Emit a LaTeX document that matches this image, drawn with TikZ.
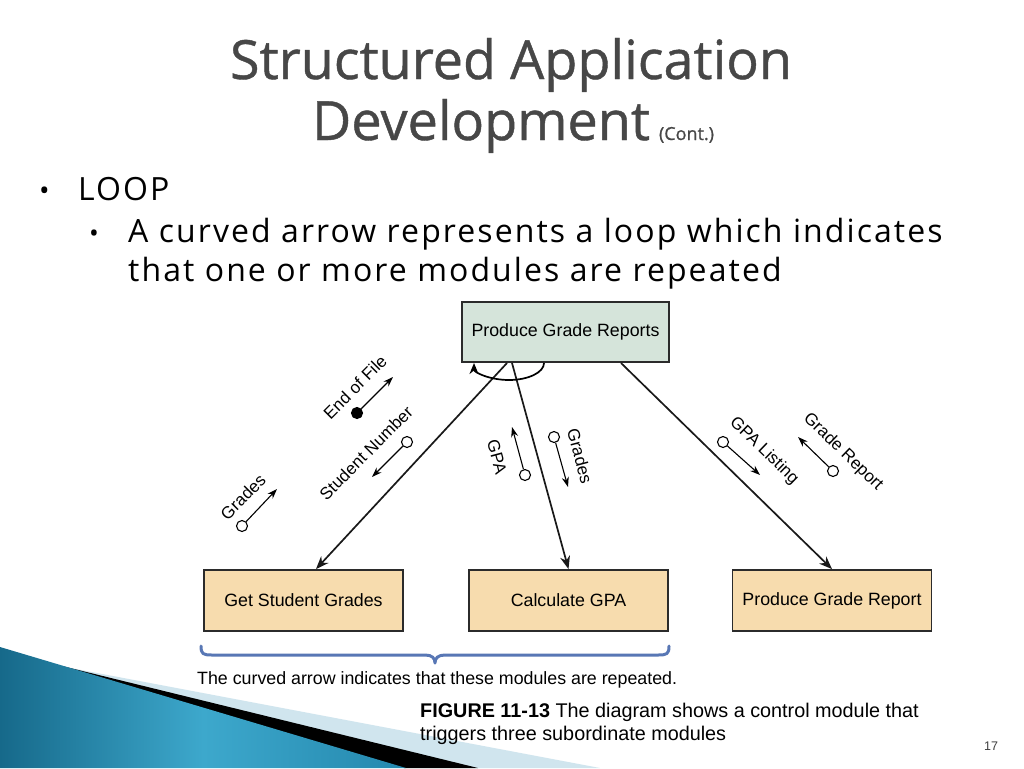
\documentclass[tikz,border=0pt]{standalone}
\usepackage{fontspec}
\setmainfont{Liberation Sans}
\newfontfamily\slidefont[LetterSpace=6.5]{Open Sans}
\newfontfamily\titlefont[FakeBold=0.8]{Open Sans}
\usetikzlibrary{arrows.meta,calc}
\definecolor{topgreen}{HTML}{D5E4DA}
\definecolor{boxtan}{HTML}{F7DCAE}
\definecolor{boxline}{HTML}{2B2B2B}
\definecolor{braceblue}{HTML}{5877B5}
\definecolor{titlegray}{HTML}{474747}
\definecolor{paleblue}{HTML}{D0E5EE}
\definecolor{tealdark}{HTML}{16698A}
\definecolor{teallight}{HTML}{3DA8CC}
\definecolor{tealmid}{HTML}{2488AE}
\begin{document}
\begin{tikzpicture}[x=1pt,y=-1pt,
  modbox/.style={draw=boxline, line width=1.8pt, minimum width=199pt, minimum height=61pt, inner sep=0pt, font=\fontsize{17.8}{20}\selectfont},
  conn/.style={line width=1.7pt, draw=black!90, -{Stealth[length=13pt,width=10pt]}},
  couple/.style={line width=1.1pt, -{Stealth[length=10pt,width=7pt]}},
  tailopen/.style={circle, draw, line width=1.1pt, fill=white, minimum size=11pt, inner sep=0pt},
  tailfull/.style={circle, draw, line width=1.1pt, fill=black, minimum size=11pt, inner sep=0pt},
  lbl/.style={font=\fontsize{17}{18}\selectfont, inner sep=0pt},
  slidetxt/.style={font=\slidefont\fontsize{32}{36}\selectfont, inner sep=0pt, anchor=base west}
]
\useasboundingbox (0,0) rectangle (1024,768);
\fill[white] (0,0) rectangle (1024,768);

% decorative corner
\fill[paleblue] (60,666) -- (600,768) -- (470,768) -- cycle;
\fill[black] (62,666) -- (478,768) -- (404,768) -- cycle;
\shade[left color=tealdark, right color=tealmid, middle color=teallight] (0,647) -- (406,768) -- (0,768) -- cycle;

% title
\node[font=\titlefont\fontsize{54}{60}\selectfont, text=titlegray, anchor=base, inner sep=0pt] (title1) at (511,79) {Structured Application};
\node[font=\titlefont\fontsize{54}{60}\selectfont, text=titlegray, anchor=base, inner sep=0pt] (title2) at (513,140) {Development\,{\fontsize{18}{20}\selectfont (Cont.)}};

% bullets
\node[slidetxt, font=\slidefont\fontsize{28}{30}\selectfont] (bul1) at (39,200) {•};
\node[slidetxt] (loop) at (78,200) {LOOP};
\node[slidetxt, font=\slidefont\fontsize{26}{30}\selectfont] (bul2) at (89,242) {•};
\node[slidetxt] (line1) at (128,242) {A curved arrow represents a loop which indicates};
\node[slidetxt] (line2) at (128,281) {that one or more modules are repeated};

% modules
\node[modbox, fill=topgreen, minimum width=207pt, minimum height=60pt] (top) at (565.5,332) {Produce Grade Reports};
\node[modbox, fill=boxtan] (gsg) at (303.5,600.5) {Get Student Grades};
\node[modbox, fill=boxtan] (cgpa) at (568.5,600.5) {Calculate GPA};
\node[modbox, fill=boxtan] (pgr) at (832,600.5) {Produce Grade Report};

% connectors
\coordinate (s1) at (507,363);
\coordinate (s2) at (512,363);
\coordinate (s3) at (621,363);
\draw[conn] (s1) -- ([xshift=12.5pt]gsg.north);
\draw[conn] (s2) -- (cgpa.north);
\draw[conn] (s3) -- (pgr.north);

% loop arc
\draw[line width=1.7pt, {Stealth[length=11pt,width=9pt]}-] (474,363) arc[start angle=180, end angle=360, x radius=35pt, y radius=17pt];

% data couples
\node[tailfull] (c1) at (357,413) {};
\coordinate (e1) at (393,377);
\draw[couple] (c1) -- (e1);
\node[lbl, rotate=45] (l1) at (355,387) {End of File};

\node[tailopen] (c2) at (407,442) {};
\coordinate (e2) at (372,477);
\draw[couple] (c2) -- (e2);
\node[lbl, rotate=45] (l2) at (366,453) {Student Number};

\node[tailopen] (c3) at (242,526) {};
\coordinate (e3) at (277,489);
\draw[couple] (c3) -- (e3);
\node[lbl, rotate=45] (l3) at (243,497) {Grades};

\node[tailopen] (c4) at (525,475) {};
\coordinate (e4) at (512,427);
\draw[couple] (c4) -- (e4);
\node[lbl, rotate=-75] (l4) at (497,457) {GPA};

\node[tailopen] (c5) at (554,437) {};
\coordinate (e5) at (568,487);
\draw[couple] (c5) -- (e5);
\node[lbl, rotate=-75] (l5) at (580,456) {Grades};

\node[tailopen] (c6) at (723,442) {};
\coordinate (e6) at (760,475);
\draw[couple] (c6) -- (e6);
\node[lbl, rotate=-44] (l6) at (764,451) {GPA Listing};

\node[tailopen] (c7) at (833,471) {};
\coordinate (e7) at (798,437);
\draw[couple] (c7) -- (e7);
\node[lbl, rotate=-44] (l7) at (843,452) {Grade Report};

% brace
\draw[braceblue, line width=3pt, line cap=round, line join=round]
  (201,646) .. controls (201,654) and (203,655) .. (212,655) -- (425,655)
  .. controls (432,655) and (435,658) .. (435,663)
  .. controls (435,658) and (438,655) .. (445,655) -- (658,655)
  .. controls (667,655) and (669,654) .. (669,646);
\node[font=\fontsize{17.8}{20}\selectfont, anchor=base west, inner sep=0pt] (note) at (197,684) {The curved arrow indicates that these modules are repeated.};

% caption
\node[font=\fontsize{19.8}{22}\selectfont, anchor=base west, inner sep=0pt] (cap1) at (420,717) {\textbf{FIGURE 11-13} The diagram shows a control module that};
\node[font=\fontsize{19.8}{22}\selectfont, anchor=base west, inner sep=0pt] (cap2) at (420,740) {triggers three subordinate modules};
\node[font=\fontsize{12.5}{14}\selectfont, text=black!75, inner sep=0pt] (pnum) at (991,746) {17};
\end{tikzpicture}
\end{document}
